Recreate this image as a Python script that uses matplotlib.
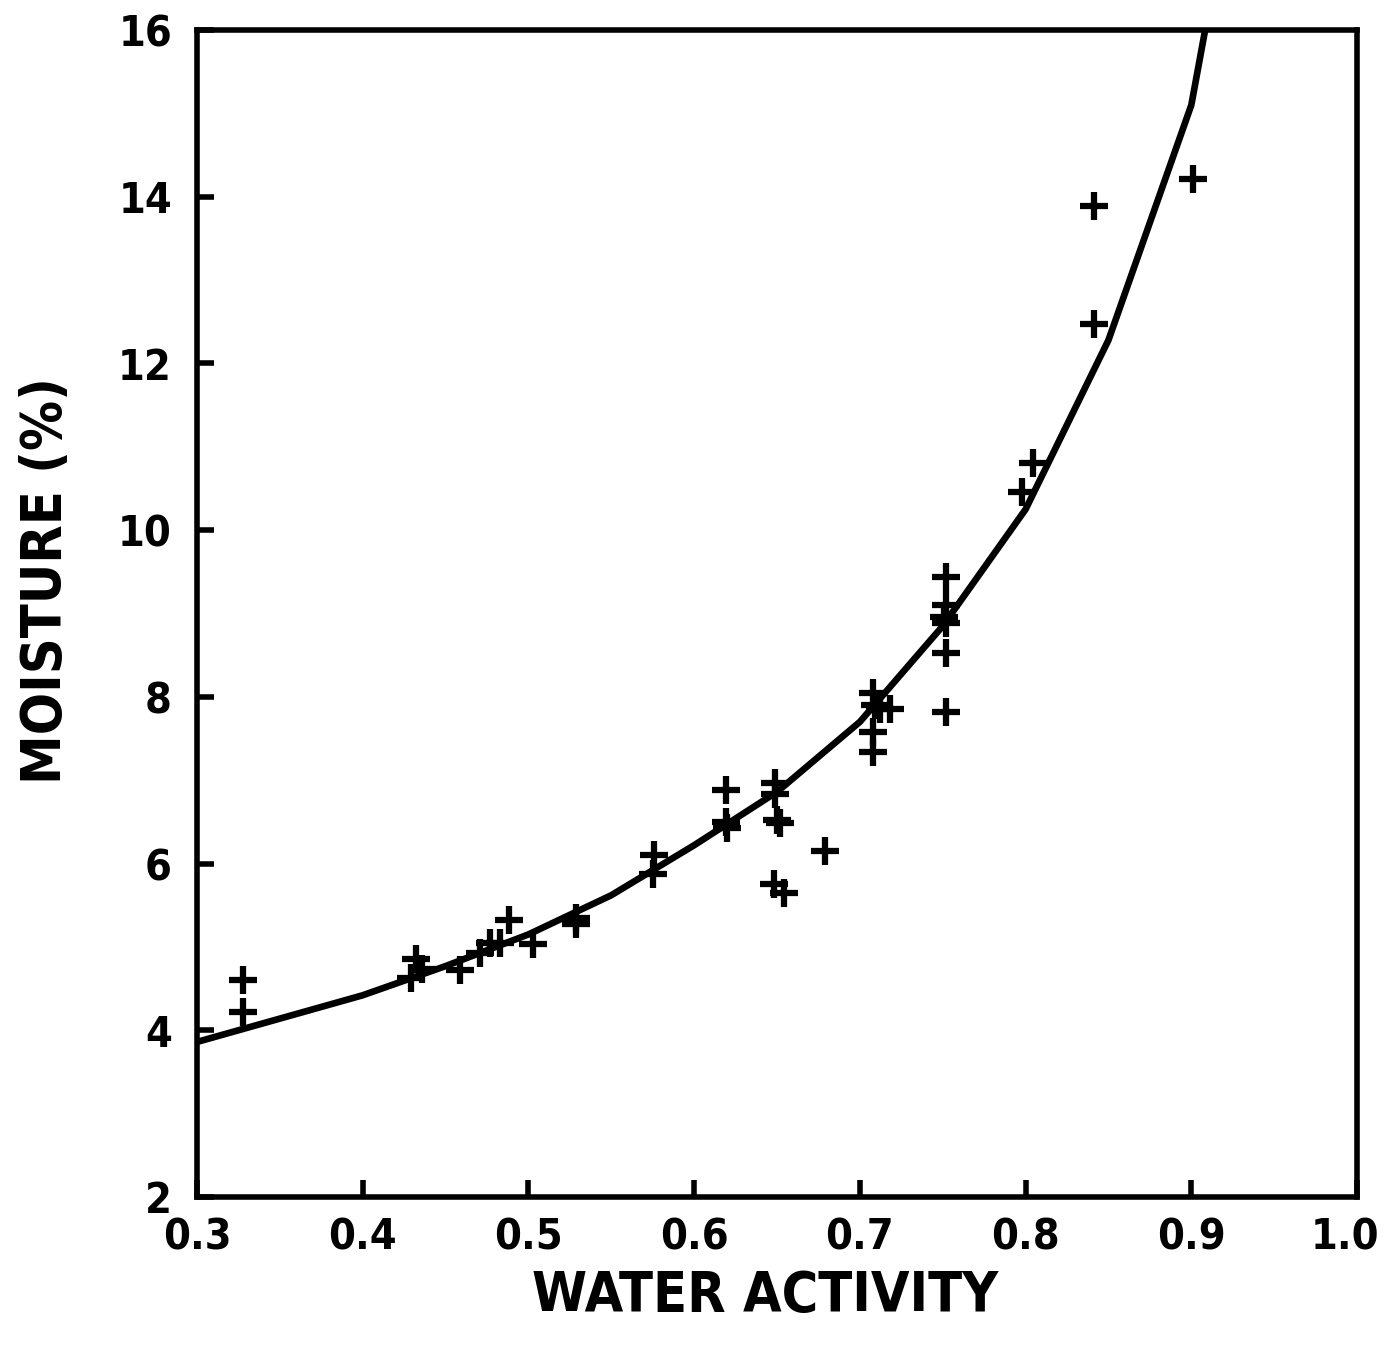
import numpy as np
import matplotlib.pyplot as plt
import matplotlib.transforms as mtransforms
from matplotlib import font_manager

# data
aw_pts = [0.328, 0.328, 0.432, 0.436, 0.429, 0.459, 0.471, 0.477, 0.483, 0.488,
          0.503, 0.529, 0.529, 0.576, 0.575, 0.619, 0.619, 0.620, 0.649, 0.649,
          0.650, 0.652, 0.648, 0.654, 0.679, 0.708, 0.709, 0.712, 0.718, 0.708,
          0.708, 0.752, 0.752, 0.751, 0.752, 0.752, 0.752, 0.798, 0.8045, 0.841,
          0.841, 0.901]
moist_pts = [4.60, 4.22, 4.85, 4.74, 4.63, 4.72, 4.93, 5.05, 5.05, 5.32,
             5.03, 5.35, 5.27, 6.10, 5.88, 6.88, 6.50, 6.43, 6.97, 6.84,
             6.52, 6.49, 5.76, 5.65, 6.15, 8.05, 7.90, 7.86, 7.85, 7.58,
             7.34, 9.44, 9.10, 8.96, 8.89, 8.53, 7.82, 10.46, 10.81, 13.89,
             12.47, 14.21]

aw_fit = [0.30, 0.35, 0.40, 0.45, 0.50, 0.55, 0.60, 0.65, 0.70, 0.75, 0.80, 0.85, 0.90, 0.95]
moist_fit = [3.86, 4.14, 4.42, 4.77, 5.15, 5.62, 6.22, 6.86, 7.70, 8.85, 10.25, 12.28, 15.1, 20.5]

xticks = [0.3, 0.4, 0.5, 0.6, 0.7, 0.8, 0.9, 1.0]
yticks = [2, 4, 6, 8, 10, 12, 14, 16]

# look for a bold condensed face, the original lettering is narrow
cond = None
for f in font_manager.fontManager.ttflist:
    fn = f.fname.lower()
    if ('condensed' in fn or 'narrow' in fn) and f.weight in (700, 'bold', 800, 900, 'heavy', 'black'):
        cond = f.fname
        break

if cond:
    tick_fp = font_manager.FontProperties(fname=cond, size=31)
    lab_fp = font_manager.FontProperties(fname=cond, size=40)
else:
    tick_fp = font_manager.FontProperties(family='DejaVu Sans', weight='bold', size=27)
    lab_fp = font_manager.FontProperties(family='DejaVu Sans', weight='bold', size=35)

fig = plt.figure(figsize=(13.88, 13.46), dpi=100)
ax = fig.add_axes([0.1419, 0.1107, 0.8358, 0.867])

ax.plot(aw_fit, moist_fit, color='black', lw=4.8, solid_capstyle='butt')
ax.plot(aw_pts, moist_pts, ls='none', marker='+', color='black', ms=20, mew=4.5)

ax.set_xlim(0.3, 1.0)
ax.set_ylim(2, 16)
ax.set_xticks(xticks)
ax.set_yticks(yticks)
ax.set_xticklabels([f'{v:.1f}' for v in xticks], fontproperties=tick_fp)
ax.set_yticklabels([str(v) for v in yticks], fontproperties=tick_fp)

for s in ax.spines.values():
    s.set_linewidth(4)
ax.tick_params(direction='in', length=12, width=4)
ax.tick_params(axis='x', pad=14)
ax.tick_params(axis='y', pad=18)

# the last x label sits a little left of its tick, as in the original
last = ax.get_xticklabels()[-1]
last.set_transform(last.get_transform() +
                   mtransforms.ScaledTranslation(-12 / 100, 0, fig.dpi_scale_trans))

fig.text(0.551, 0.037, 'WATER ACTIVITY', ha='center', va='center', fontproperties=lab_fp)
fig.text(0.033, 0.569, 'MOISTURE (%)', ha='center', va='center', rotation=90,
         fontproperties=lab_fp)

fig.savefig('out.png', dpi=100)
